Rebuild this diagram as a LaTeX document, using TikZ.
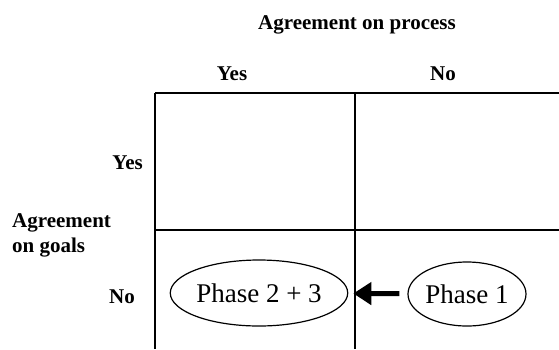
\documentclass[tikz,border=0pt]{standalone}
\usepackage{fontspec}
\setmainfont{Liberation Serif}
\usetikzlibrary{shapes.geometric,arrows.meta}
\begin{document}
\begin{tikzpicture}[x=1pt,y=-1pt,
  lbl/.style={font=\fontsize{21}{25}\selectfont\bfseries, inner sep=0pt},
  phase/.style={draw, ellipse, line width=1.2pt, inner sep=0pt, font=\fontsize{27}{30}\selectfont},
  grid/.style={line width=1.6pt},
  arr/.style={line width=5pt, -{Triangle[length=18pt,width=22pt]}}]
\useasboundingbox (0,0) rectangle (559,349);
% table lines
\coordinate (tl) at (155,93);
\coordinate (tr) at (559,93);
\coordinate (bl) at (155,349);
\coordinate (tm) at (355,93);
\coordinate (bm) at (355,349);
\coordinate (ml) at (155,230);
\coordinate (mr) at (559,230);
\draw[grid] (tl) -- (tr);
\draw[grid] (tl) -- (bl);
\draw[grid] (tm) -- (bm);
\draw[grid] (ml) -- (mr);
% labels
\node[lbl, anchor=base] (title) at (357,29) {Agreement on process};
\node[lbl, anchor=base] (cyes) at (232,80) {Yes};
\node[lbl, anchor=base] (cno) at (443,80) {No};
\node[lbl, anchor=base east] (ryes) at (143,169) {Yes};
\node[lbl, anchor=base west] (agr1) at (12,227) {Agreement};
\node[lbl, anchor=base west] (agr2) at (12,252) {on goals};
\node[lbl, anchor=base east] (rno) at (135,303) {No};
% ellipses
\node[phase, minimum width=166pt, minimum height=66pt] (e1) at (259,293) {Phase 2 + 3};
\node[phase, minimum width=118pt, minimum height=64pt] (e2) at (467,294) {Phase 1};
\draw[arr, shorten <=8pt, shorten >=5pt] (e2) -- (e1);
\end{tikzpicture}
\end{document}
